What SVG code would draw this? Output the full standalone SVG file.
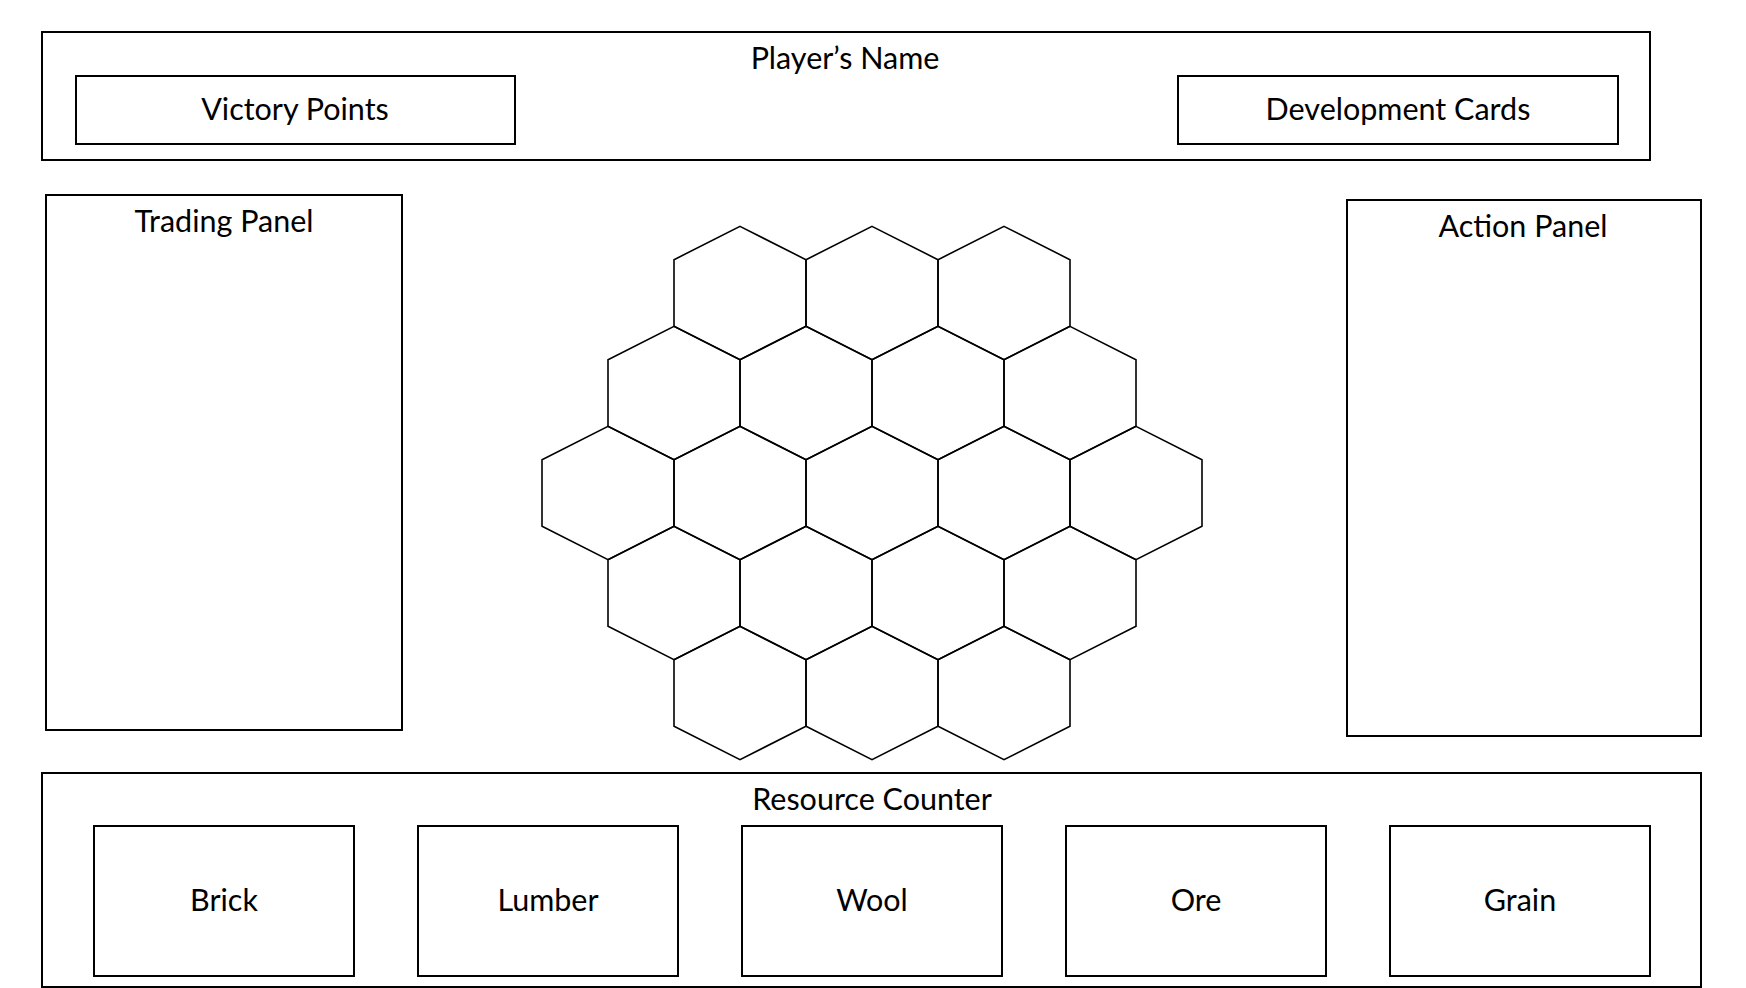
<svg xmlns="http://www.w3.org/2000/svg" width="1746" height="988" viewBox="0 0 1746 988">
<defs>
<style>
.box{fill:none;stroke:#000;stroke-width:2}
.hex{fill:none;stroke:#000;stroke-width:1.6}
.t{font-family:Lato,"Open Sans",sans-serif;font-size:30.5px;fill:#000;text-anchor:middle}
</style>
<polygon id="h" points="0,-66.6 66,-33.3 66,33.3 0,66.6 -66,33.3 -66,-33.3"/>
</defs>
<rect width="1746" height="988" fill="#fff"/>
<g id="player-bar">
<rect class="box" x="42" y="32" width="1608" height="128"/>
<text class="t" x="845" y="69">Player’s Name</text>
</g>
<g id="victory-points">
<rect class="box" x="76" y="76" width="439" height="68"/>
<text class="t" x="295" y="120">Victory Points</text>
</g>
<g id="development-cards">
<rect class="box" x="1178" y="76" width="440" height="68"/>
<text class="t" x="1398" y="120">Development Cards</text>
</g>
<g id="trading-panel">
<rect class="box" x="46" y="195" width="356" height="535"/>
<text class="t" x="224" y="232">Trading Panel</text>
</g>
<g id="action-panel">
<rect class="box" x="1347" y="200" width="354" height="536"/>
<text class="t" x="1523" y="237">Action Panel</text>
</g>
<g id="board" class="hex">
<use href="#h" x="740" y="293"/><use href="#h" x="872" y="293"/><use href="#h" x="1004" y="293"/>
<use href="#h" x="674" y="393"/><use href="#h" x="806" y="393"/><use href="#h" x="938" y="393"/><use href="#h" x="1070" y="393"/>
<use href="#h" x="608" y="493"/><use href="#h" x="740" y="493"/><use href="#h" x="872" y="493"/><use href="#h" x="1004" y="493"/><use href="#h" x="1136" y="493"/>
<use href="#h" x="674" y="593"/><use href="#h" x="806" y="593"/><use href="#h" x="938" y="593"/><use href="#h" x="1070" y="593"/>
<use href="#h" x="740" y="693"/><use href="#h" x="872" y="693"/><use href="#h" x="1004" y="693"/>
</g>
<g id="resource-counter">
<rect class="box" x="42" y="773" width="1659" height="214"/>
<text class="t" x="872" y="810">Resource Counter</text>
</g>
<g id="brick">
<rect class="box" x="94" y="826" width="260" height="150"/>
<text class="t" x="224" y="911">Brick</text>
</g>
<g id="lumber">
<rect class="box" x="418" y="826" width="260" height="150"/>
<text class="t" x="548" y="911">Lumber</text>
</g>
<g id="wool">
<rect class="box" x="742" y="826" width="260" height="150"/>
<text class="t" x="872" y="911">Wool</text>
</g>
<g id="ore">
<rect class="box" x="1066" y="826" width="260" height="150"/>
<text class="t" x="1196" y="911">Ore</text>
</g>
<g id="grain">
<rect class="box" x="1390" y="826" width="260" height="150"/>
<text class="t" x="1520" y="911">Grain</text>
</g>
<g id="connectors"/>
</svg>
